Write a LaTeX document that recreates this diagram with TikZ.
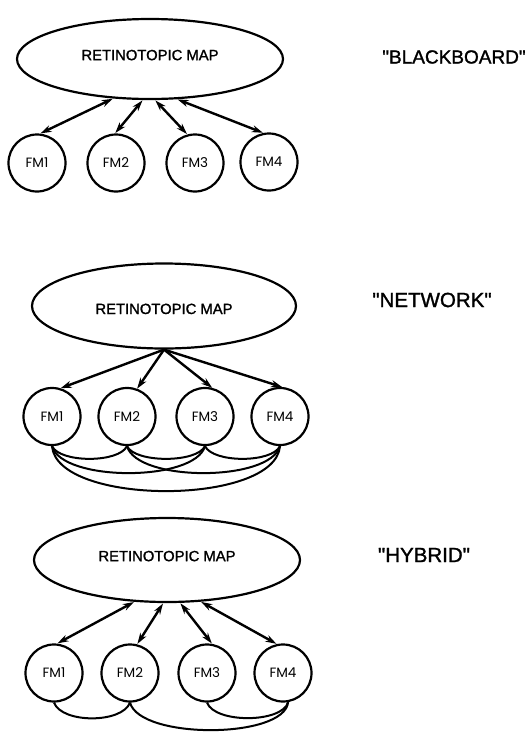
\documentclass[tikz,border=0pt]{standalone}
\usepackage{fontspec}
\setmainfont{Liberation Sans}[Ligatures=TeXOff, FakeBold=1.4]
\newfontfamily\fmfont{Poppins}
\usetikzlibrary{arrows.meta,shapes.geometric}
\begin{document}
\begin{tikzpicture}[x=1pt,y=-1pt,
  mapnode/.style={ellipse, draw, line width=2.2pt, minimum width=266pt, minimum height=80pt, inner sep=0pt, text depth=8pt, font=\fontsize{14.8}{16}\selectfont},
  fmnode/.style={circle, draw, line width=2.2pt, minimum size=57pt, inner sep=0pt, font=\fmfont\fontsize{13.5}{15}\selectfont},
  lbl/.style={font=\fontsize{19}{22}\selectfont},
  dbl/.style={{Stealth[length=11pt,width=7pt]}-{Stealth[length=11pt,width=7pt]}, line width=2.4pt, shorten <=0.5pt, shorten >=0.5pt},
  sgl/.style={-{Stealth[length=11pt,width=7pt]}, line width=2.4pt},
  link/.style={line width=2pt}]
\useasboundingbox (0,0) rectangle (532,732);

% ---- BLACKBOARD ----
\node[mapnode] (mapA) at (150,59) {RETINOTOPIC MAP};
\node[lbl] (labA) at (454,57) {"BLACKBOARD"};
\node[fmnode] (a1) at (37,163) {FM1};
\node[fmnode] (a2) at (116,163) {FM2};
\node[fmnode] (a3) at (195,163) {FM3};
\node[fmnode] (a4) at (269,162) {FM4};
\draw[dbl] (mapA.227) -- (a1.84);
\draw[dbl] (mapA.260) -- (a2.92);
\draw[dbl] (mapA.277) -- (a3.105);
\draw[dbl] (mapA.304) -- (a4.101);

% ---- NETWORK ----
\node[mapnode, minimum width=264pt, minimum height=85pt, text depth=0pt, text height=16pt] (mapB) at (164,306) {RETINOTOPIC MAP};
\node[lbl, font=\fontsize{20.5}{23}\selectfont] (labB) at (432,300) {"NETWORK"};
\node[fmnode] (b1) at (52,416.5) {FM1};
\node[fmnode] (b2) at (127,416.5) {FM2};
\node[fmnode] (b3) at (205,416.5) {FM3};
\node[fmnode] (b4) at (280,416.5) {FM4};
\draw[sgl] (mapB.south) -- (b1.73);
\draw[sgl] (mapB.south) -- (b2.70);
\draw[sgl] (mapB.south) -- (b3.76);
\draw[sgl] (mapB.south) -- (b4.86);
\draw[link] (b1.south) .. controls +(8,17) and +(-8,17) .. (b2.south);
\draw[link] (b2.south) .. controls +(8,17) and +(-8,17) .. (b3.south);
\draw[link] (b3.south) .. controls +(8,17) and +(-8,17) .. (b4.south);
\draw[link] (b1.south) .. controls +(10,36) and +(-10,36) .. (b3.south);
\draw[link] (b2.south) .. controls +(10,36) and +(-10,36) .. (b4.south);
\draw[link] (b1.south) .. controls +(5,60) and +(-5,60) .. (b4.south);

% ---- HYBRID ----
\node[mapnode, minimum height=84pt] (mapC) at (167,560) {RETINOTOPIC MAP};
\node[lbl, font=\fontsize{20.5}{23}\selectfont] (labC) at (424,555) {"HYBRID"};
\node[fmnode] (c1) at (54,673) {FM1};
\node[fmnode] (c2) at (130,673) {FM2};
\node[fmnode] (c3) at (207,673) {FM3};
\node[fmnode] (c4) at (283,673) {FM4};
\draw[dbl] (mapC.232) -- (c1.84);
\draw[dbl] (mapC.265) -- (c2.76);
\draw[dbl] (mapC.287) -- (c3.80);
\draw[dbl] (mapC.309) -- (c4.102);
\draw[link] (c1.south) .. controls +(8,21) and +(-8,21) .. (c2.south);
\draw[link] (c3.south) .. controls +(8,21) and +(-6,21) .. (c4.-80);
\draw[link] (c2.south) .. controls +(10,37) and +(-4,37) .. (c4.-80);
\end{tikzpicture}
\end{document}
